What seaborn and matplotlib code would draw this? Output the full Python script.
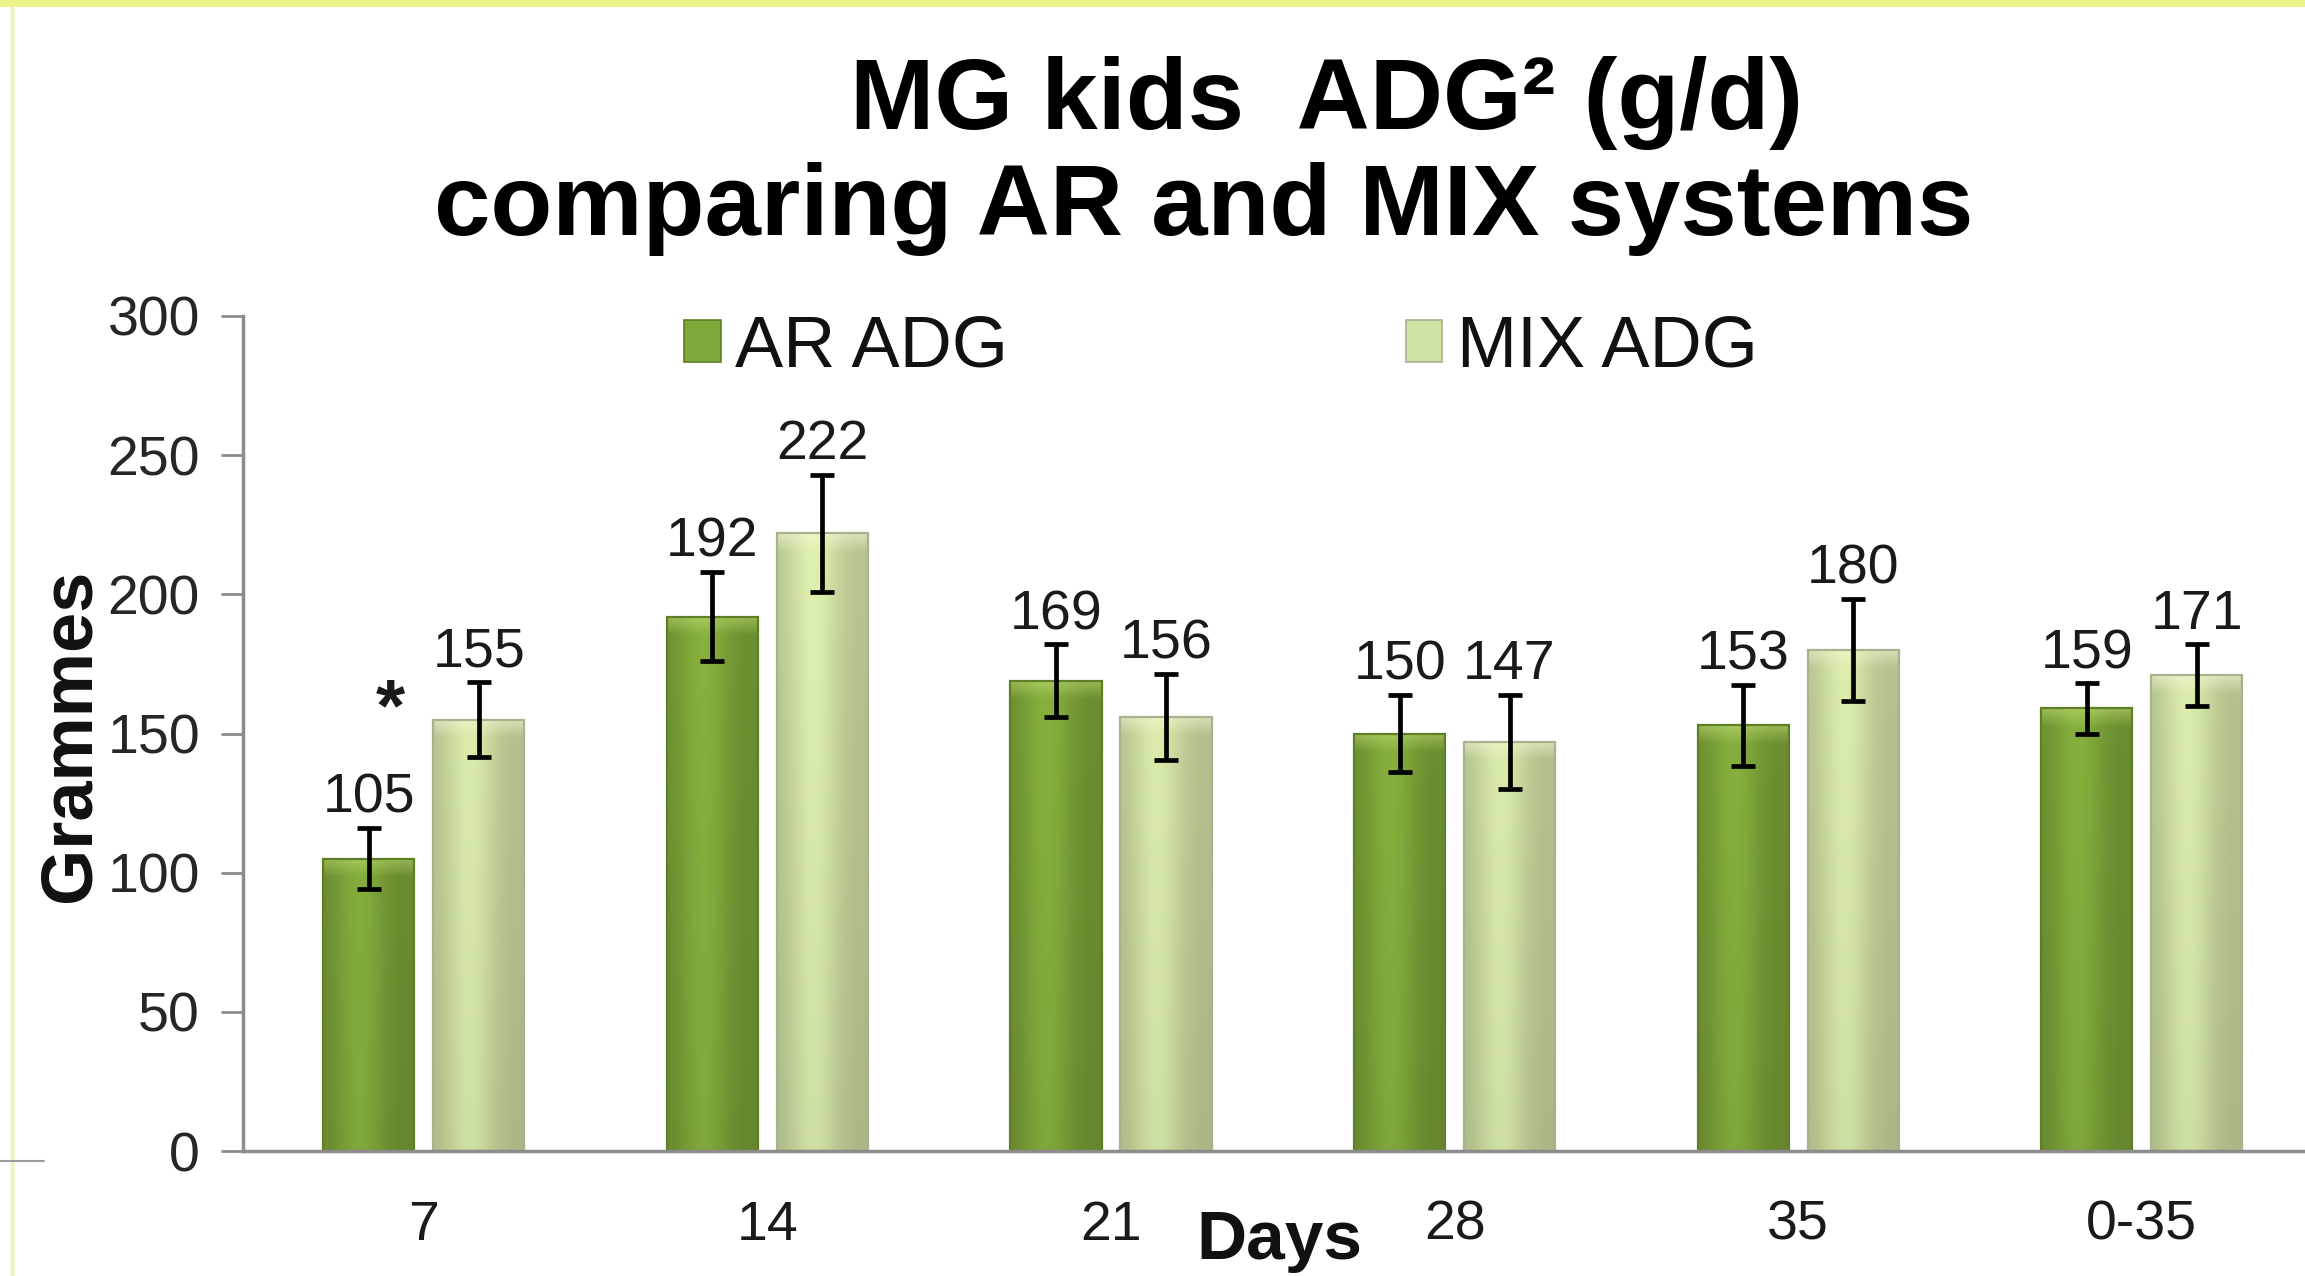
import numpy as np
import pandas as pd
import matplotlib
matplotlib.use("Agg")
import matplotlib.pyplot as plt
import seaborn as sns
from matplotlib.patches import Rectangle, Patch
from matplotlib.lines import Line2D
from matplotlib.colors import to_rgb

# ---------------- data ----------------
days = ["7", "14", "21", "28", "35", "0-35"]
series = ["AR ADG", "MIX ADG"]
ar_adg = [105, 192, 169, 150, 153, 159]
mix_adg = [155, 222, 156, 147, 180, 171]
ar_err = [11, 16, 13, 14, 14.5, 9]
mix_err = [13.5, 21, 15.5, 17, 18.5, 11]
yticks = [0, 50, 100, 150, 200, 250, 300]
title_line1 = "MG kids  ADG\u00b2 (g/d)"
title_line2 = "comparing AR and MIX systems"
ylabel = "Grammes"
xlabel = "Days"
sig_mark = "*"
sig_day = "7"

# ---------------- style ----------------
sns.set_theme(style="white")
plt.rcParams["font.family"] = ["Liberation Sans", "DejaVu Sans"]

W, H = 2305, 1276
fig = plt.figure(figsize=(W / 100, H / 100), dpi=100)
fig.patch.set_facecolor("white")

ax_left, ax_bottom_px, ax_top_px = 243, 1151, 316
ax = fig.add_axes([ax_left / W, 1 - ax_bottom_px / H, 1 - ax_left / W,
                   (ax_bottom_px - ax_top_px) / H])

df = pd.DataFrame({
    "Days": days * 2,
    "System": [series[0]] * len(days) + [series[1]] * len(days),
    "ADG": ar_adg + mix_adg,
    "err": ar_err + mix_err,
})

base_cols = {series[0]: "#80a83a", series[1]: "#d0e1a4"}
edge_cols = {series[0]: "#5e7f27", series[1]: "#a7b28f"}
top_cols = {series[0]: "#c0dc74", series[1]: "#f3f9d8"}
falloff = {series[0]: 0.86, series[1]: 0.88}

sns.barplot(data=df, x="Days", y="ADG", hue="System", order=days,
            hue_order=series, palette=base_cols, saturation=1,
            width=0.64, gap=0.17, errorbar=None, legend=False, ax=ax,
            linewidth=0)

# bars sorted by x position -> interleaved AR, MIX per day
bars = [p for p in ax.patches if isinstance(p, Rectangle) and p.get_height() > 0]
bars = sorted(bars, key=lambda p: p.get_x())

vals = []
errs = []
names = []
for i in range(len(days)):
    vals += [ar_adg[i], mix_adg[i]]
    errs += [ar_err[i], mix_err[i]]
    names += [series[0], series[1]]

# cylinder-like shading for every bar
for p, nm in zip(bars, names):
    x0, w, h = p.get_x(), p.get_width(), p.get_height()
    base = np.array(to_rgb(base_cols[nm]))
    u = np.linspace(0, 1, 80)
    lo = falloff[nm]
    f = lo + (1.08 - lo) * np.exp(-((u - 0.40) / 0.28) ** 2)
    yv = np.linspace(0, h, 300)
    g = 0.92 + 0.10 * (yv / 300.0)
    img = base[None, None, :] * f[None, :, None] * g[:, None, None]
    cap = 6.5
    t = np.clip((yv - (h - cap)) / cap, 0, 1) * 0.55
    topc = np.array(to_rgb(top_cols[nm]))
    img = img * (1 - t[:, None, None]) + topc[None, None, :] * t[:, None, None]
    img = np.clip(img, 0, 1)
    ax.imshow(img, extent=[x0, x0 + w, 0, h], origin="lower", aspect="auto",
              interpolation="bilinear", zorder=2.05)
    p.set_facecolor("none")
    p.set_edgecolor(edge_cols[nm])
    p.set_linewidth(1.6)
    p.set_zorder(2.1)

# error bars and value labels
for p, v, e in zip(bars, vals, errs):
    xc = p.get_x() + p.get_width() / 2
    ax.errorbar(xc, v, yerr=e, fmt="none", ecolor="black", elinewidth=3.4,
                capsize=8.5, capthick=3.4, zorder=4)
    ax.annotate(f"{v:g}", xy=(xc, v + e), xytext=(0, 11),
                textcoords="offset points", ha="center", va="baseline",
                fontsize=40, color="#1a1a1a", zorder=5)

# significance mark
sig_idx = days.index(sig_day)
ax.text(sig_idx - 0.098, 151, sig_mark, ha="center", va="baseline",
        fontsize=54, fontweight="bold", color="#1a1a1a", zorder=5)

# axes formatting
ax.set_xlim(-0.526, 5.475)
ax.set_ylim(0, 300)
ax.set_yticks(yticks)
ax.set_yticklabels([str(t) for t in yticks])
ax.set_xlabel("")
ax.set_ylabel("")
for s in ["top", "right"]:
    ax.spines[s].set_visible(False)
for s in ["left", "bottom"]:
    ax.spines[s].set_color("#8c8c8c")
    ax.spines[s].set_linewidth(2.5)
ax.tick_params(axis="y", which="major", direction="out", length=16, width=2,
               color="#8c8c8c", pad=15, labelsize=40, labelcolor="#262626", left=True)
ax.tick_params(axis="x", which="major", length=0, pad=35, labelsize=40,
               labelcolor="#1a1a1a")
ax.grid(False)

# legend
handles = [Patch(facecolor=base_cols[s], edgecolor=edge_cols[s], linewidth=1.2)
           for s in series]
ax.legend(handles, series, loc="center left",
          bbox_to_anchor=(684 / W, 1 - 348 / H), bbox_transform=fig.transFigure,
          ncol=2, frameon=False, fontsize=52, handlelength=0.51,
          handleheight=0.51, handletextpad=0.2, columnspacing=5.5,
          borderpad=0, borderaxespad=0, labelcolor="#111111")

# titles and axis labels
fig.text(0.5755, 1 - 129 / H, title_line1, ha="center", va="baseline",
         fontsize=73, fontweight="bold", color="black")
fig.text(1204 / W, 1 - 235 / H, title_line2, ha="center", va="baseline",
         fontsize=73, fontweight="bold", color="black")
fig.text(70.5 / W, 1 - 735 / H, ylabel, rotation=90, ha="center", va="center",
         fontsize=52, fontweight="bold", color="#111111")
fig.text(1279 / W, 3 / H, xlabel, ha="center", va="bottom",
         fontsize=50, fontweight="bold", color="#111111")

# slide frame decorations
fig.patches.append(Rectangle((0, 1 - 7 / H), 1, 7 / H, transform=fig.transFigure,
                             facecolor="#eef28a", edgecolor="none", zorder=10))
fig.lines.append(Line2D([12 / W, 12 / W], [0, 1], transform=fig.transFigure,
                        color="#f1f4a4", linewidth=2.5, zorder=10))
fig.lines.append(Line2D([0, 44 / W], [1 - 1161 / H, 1 - 1161 / H],
                        transform=fig.transFigure, color="#9a9a9a",
                        linewidth=1.5, zorder=10))

fig.savefig("out.png", dpi=100, facecolor="white")
